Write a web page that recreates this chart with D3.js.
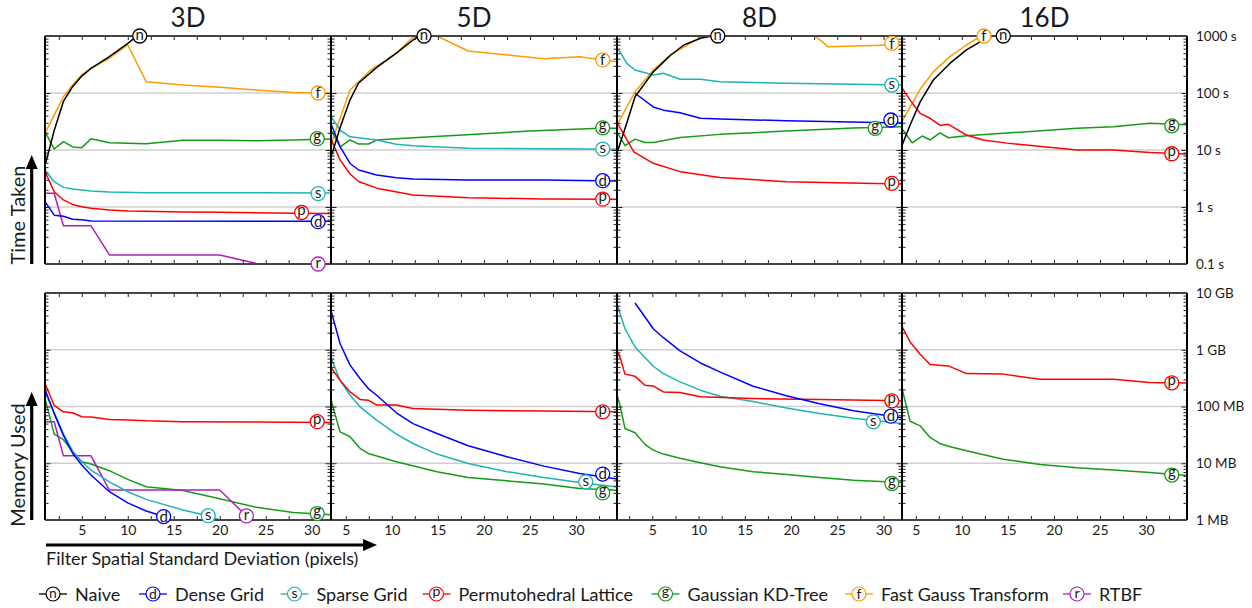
<!DOCTYPE html>
<html><head><meta charset="utf-8">
<script src="https://cdn.jsdelivr.net/npm/d3@7"></script>
<style>
body{margin:0;background:#fff}
svg{display:block}
text{font-family:Lato,"Open Sans",sans-serif;fill:#1a1a1a}
</style></head>
<body><svg id="c" width="1252" height="608"></svg>
<script>
// ---------------- DATA ----------------
const dims = ["3D","5D","8D","16D"];
const seriesKeys = ["n","d","s","p","g","f","r"];
const seriesNames = ["Naive","Dense Grid","Sparse Grid","Permutohedral Lattice","Gaussian KD-Tree","Fast Gauss Transform","RTBF"];
const xDomains = [[1,32.1],[3.4,34.45],[1.18,32.0],[3.5,34.45]];
const xTickLabels = [5,10,15,20,25,30];
const timeTicks = [0.1,1,10,100,1000];
const timeTickLabels = ["0.1 s","1 s","10 s","100 s","1000 s"];
const memTicks = [1,10,100,1000,10000];
const memTickLabels = ["1 MB","10 MB","100 MB","1 GB","10 GB"];

// Time taken (seconds): [sigma, value]
const t3_n = [[1,5.3],[2,22],[3,71],[4,129],[5,198],[6,270],[8,434],[10,740],[10.7,910]];
const t3_d = [[1,1.24],[2,0.72],[3,0.69],[4,0.61],[5,0.595],[6,0.567],[33,0.56]];
const t3_s = [[1,4.46],[2,2.78],[3,2.21],[4,2.07],[5,1.99],[6,1.91],[8,1.83],[12,1.78],[16,1.77],[24,1.77],[33,1.75]];
const t3_p = [[1,4.17],[2,1.85],[3,1.33],[4,1.11],[5,1.01],[6,0.95],[8,0.885],[10,0.85],[12,0.84],[16,0.817],[20,0.81],[28,0.774],[33,0.77]];
const t3_g = [[1,21],[2,10.4],[3,14],[4,11.3],[5,11],[6,15.8],[8,13.4],[12,12.9],[16,14.8],[20,14.8],[24,14.5],[28,15],[33,15.8]];
const t3_f = [[1,19.6],[2,41],[3,86],[4,138],[5,208],[6,270],[8,407],[10,695],[12,158],[16,138],[20,126],[24,113],[28,102],[33,100]];
const t3_r = [[1,1.74],[2,1.74],[3,0.47],[6,0.47],[8,0.144],[20,0.144],[24,0.102],[33,0.1]];
const t3_labels = [["n",11.3,1000],["f",30.7,100],["g",30.6,15.8],["s",30.7,1.72],["p",28.9,0.8],["d",30.7,0.552],["r",30.7,0.1]];

const t5_n = [[3.3,6.6],[4.38,24.6],[5.47,76],[6.4,150],[8.4,285],[10.5,500],[12.3,850],[12.9,980]];
const t5_d = [[3.3,31.4],[4.38,11.5],[5.47,5.8],[6.4,4.46],[8.36,3.64],[10.5,3.27],[12.3,3.1],[18.3,2.98],[26.5,2.98],[35,2.86]];
const t5_s = [[3.3,41],[4.38,22.4],[5.47,17],[8.36,15],[10.5,12.6],[12.3,11.9],[18.3,10.7],[35,10.3]];
const t5_p = [[3.3,17],[4.38,6.7],[5.47,3.8],[6.4,2.8],[8.36,2.14],[12.3,1.63],[18.3,1.46],[26.5,1.38],[35,1.37]];
const t5_g = [[3.3,24],[4.38,11.4],[5.47,15],[6.4,12.7],[7.45,12.7],[8.36,15],[12.3,16.4],[17.7,18.3],[25,21.5],[32.6,24],[35,24]];
const t5_f = [[3.3,11.4],[5.47,113],[7.7,253],[10.5,500],[12.3,950],[13.5,1150],[14.9,1000],[18.3,545],[26.5,400],[30.4,433],[35,345]];
const t5_labels = [["n",13.5,1000],["f",32.9,380],["g",32.9,24.5],["s",32.9,10.4],["d",32.9,2.9],["p",32.9,1.37]];

const t8_n = [[1,7.2],[2.23,29.5],[3.13,86],[5.1,235],[7,464],[8.4,695],[10.2,910],[11.2,975]];
const t8_d = [[3.13,99],[5.1,57],[6.2,50],[8,45],[10.2,36],[12.3,35],[19.5,32.6],[33,29.4]];
const t8_s = [[1,640],[1.5,530],[2.23,330],[3.13,253],[5.1,207],[6.2,222],[8,174],[10.2,174],[12.3,158],[19.5,148],[26.75,142],[33,138]];
const t8_p = [[1,34],[3.0,9.3],[5.1,5.85],[8,4.17],[12.3,3.3],[19.5,2.78],[33,2.5]];
const t8_g = [[1,23],[2.05,11.9],[3.13,15.5],[4.2,13.5],[5.1,13.6],[8,16.6],[12.3,18.8],[19.5,21.5],[26.75,24.3],[33,25.7]];
const t8_f = [[1,24],[3.13,105],[5.1,253],[7,470],[10.2,950],[12,1300],[22,1200],[24,650],[30.9,695],[33,714]];
const t8_labels = [["n",12.08,1000],["f",30.9,745],["s",30.9,138],["d",30.8,33.6],["g",29.1,24],["p",30.9,2.6]];

const t16_n = [[3.3,10],[4.38,27.5],[5.47,70],[6.9,169],[8.7,330],[10.5,570],[12.3,850],[13.2,970]];
const t16_p = [[3.3,138],[4.38,75],[5.47,44],[6.55,36],[7.64,27],[8.54,28.2],[10.5,18.3],[12.3,15],[14.9,13.2],[22.5,10],[26.45,10],[30.4,9.0],[35,8.4]];
const t16_g = [[3.3,26.4],[4.6,13.4],[5.7,17.6],[6.55,15],[7.64,20],[8.54,16.4],[10.5,17.8],[22.5,24],[26.45,25.7],[30.4,29.5],[35,27.5]];
const t16_f = [[3.3,27.5],[4.38,57],[5.47,116],[6.9,235],[8.7,434],[10.5,695],[12,980]];
const t16_labels = [["f",12.4,1000],["n",14.5,1000],["g",32.8,26.5],["p",32.8,8.6]];

// Memory used (MB): [sigma, value]
const m3_d = [[1,200],[2,75],[3,31],[4,15],[5,9.3],[6,6.2],[8,3.15],[10,2.0],[12,1.44],[13.9,1.15]];
const m3_s = [[1,181],[2,78],[3,33],[4,16.5],[5,10.6],[6,7.6],[8,4.7],[10,3.15],[12,2.31],[16,1.5],[18.7,1.19],[20,1.0]];
const m3_p = [[1,254],[2,105],[3,80.5],[4,77.5],[5,66],[6,65],[8,59],[10,58],[12,56],[16,54],[33,52]];
const m3_g = [[1,139],[2,32.6],[3,26],[4,16],[5,10.6],[6,9.7],[8,7.4],[10,5.2],[12,3.86],[16,3.3],[20,2.37],[24,1.67],[28,1.35],[33,1.21]];
const m3_r = [[1,54],[2,54],[3,13.5],[6,13.5],[8,3.37],[20,3.37],[22.9,1.18]];
const m3_labels = [["p",30.6,54],["d",13.9,1.15],["s",18.75,1.19],["r",22.9,1.18],["g",30.6,1.3]];

const m5_d = [[3.3,5600],[4.38,1290],[5.47,536],[6.55,311],[7.45,207],[8.36,158],[10.5,77.5],[12.3,50],[14.9,33.5],[18.3,20.3],[22.5,13],[26.5,8.9],[30.4,6.6],[35,5.1]];
const m5_s = [[3.3,800],[4.38,290],[5.47,158],[6.55,98.6],[8.36,57.5],[10.5,32.6],[12.3,22.3],[14.9,14.5],[18.3,9.9],[22.5,7.1],[26.5,5.6],[30.4,4.6],[35,3.7]];
const m5_p = [[3.3,512],[4.38,290],[5.47,181],[6.55,133],[7.45,129],[8.36,106],[10.5,106],[12.3,92],[18.3,86],[26.5,83],[35,80.5]];
const m5_g = [[3.3,148],[4.38,35.8],[5.47,29.3],[6.55,18.3],[7.45,14.9],[10.5,10.6],[14.9,7.1],[18.3,5.63],[22.5,4.9],[26.5,4.3],[30.4,3.6],[35,3.3]];
const m5_labels = [["p",32.9,80.5],["d",32.9,6.45],["s",31.06,4.7],["g",32.9,3.0]];

const m8_d = [[3.13,6670],[5.1,2350],[6.2,1630],[8,955],[10.2,585],[12.3,407],[15.9,228],[19.5,155],[23.1,112],[26.75,84],[33,60]];
const m8_s = [[1,8000],[2.04,2350],[3.13,1120],[4.2,730],[5.1,512],[6.2,380],[8,272],[10.2,194],[12.3,152],[15.9,122],[19.5,94],[23.1,75],[26.75,62],[33,48]];
const m8_p = [[1,1100],[1.5,750],[2.04,372],[3.13,340],[4.2,237],[5.1,230],[6.2,181],[8,176],[10.2,148],[15.9,138],[23.1,133],[33,126]];
const m8_g = [[1,200],[1.5,106],[2.04,41],[3.13,34.5],[4.2,21.5],[5.1,17],[6.2,14.5],[8,12.2],[10.2,10.2],[12.3,8.7],[15.9,7.1],[19.5,6.35],[23.1,5.6],[26.75,5.0],[33,4.5]];
const m8_labels = [["p",30.9,126],["d",30.8,67.5],["s",28.9,53.8],["g",30.9,4.4]];

const m16_p = [[3.5,2590],[4.38,1370],[5.47,835],[6.55,550],[8.54,519],[10.5,380],[14.5,372],[18.5,302],[26.45,302],[30.4,265],[35,260]];
const m16_g = [[3.5,208],[4.38,55],[5.47,45.6],[6.55,28.5],[7.6,22.3],[8.54,20],[10.5,16.6],[14.5,11.8],[18.5,9.5],[22.5,8.3],[26.45,7.6],[30.4,6.9],[35,6.0]];
const m16_labels = [["p",32.8,261],["g",32.8,6.2]];

// ---------------- BUILD ----------------
const seriesColors = {n:"#000000",d:"#0000ff",s:"#1fb3b3",p:"#ff0000",g:"#169b16",f:"#ff9c00",r:"#b01fb8"};
const letterDy = {n:"0.27em",s:"0.27em",r:"0.27em",d:"0.35em",f:"0.35em",p:"0.15em",g:"0.15em"};
const timePanels = [
  {n:t3_n,d:t3_d,s:t3_s,p:t3_p,g:t3_g,f:t3_f,r:t3_r,labels:t3_labels},
  {n:t5_n,d:t5_d,s:t5_s,p:t5_p,g:t5_g,f:t5_f,labels:t5_labels},
  {n:t8_n,d:t8_d,s:t8_s,p:t8_p,g:t8_g,f:t8_f,labels:t8_labels},
  {n:t16_n,p:t16_p,g:t16_g,f:t16_f,labels:t16_labels}];
const memPanels = [
  {d:m3_d,s:m3_s,p:m3_p,g:m3_g,r:m3_r,labels:m3_labels},
  {d:m5_d,s:m5_s,p:m5_p,g:m5_g,labels:m5_labels},
  {d:m8_d,s:m8_s,p:m8_p,g:m8_g,labels:m8_labels},
  {p:m16_p,g:m16_g,labels:m16_labels}];

const svg = d3.select("#c");
const edges = [45,331,617,902,1187];
const rows = [
  {y: d3.scaleLog().domain([0.1,1000]).range([264,36]), panels: timePanels, ticks: timeTicks, tickLabels: timeTickLabels, top:36, bottom:264},
  {y: d3.scaleLog().domain([1,10000]).range([520,293]), panels: memPanels, ticks: memTicks, tickLabels: memTickLabels, top:293, bottom:520}
];
const drawOrder = ["f","g","r","s","p","d","n"];
const defs = svg.append("defs");

rows.forEach((row, ri) => {
  const y = row.y;
  const [d0, d1] = y.domain();
  const minor = [];
  for (let e = Math.log10(d0); e < Math.log10(d1) - 0.01; e++) for (let k = 2; k <= 9; k++) minor.push(k * Math.pow(10, e));

  // grid lines
  svg.append("g").selectAll("line").data(row.ticks.slice(1, -1)).join("line")
    .attr("x1", edges[0]).attr("x2", edges[4])
    .attr("y1", d => y(d)).attr("y2", d => y(d))
    .attr("stroke", "#cfcfcf").attr("stroke-width", 1.3);

  dims.forEach((dim, i) => {
    const x = d3.scaleLinear().domain(xDomains[i]).range([edges[i], edges[i+1]]);
    const cid = `clip${ri}_${i}`;
    defs.append("clipPath").attr("id", cid).append("rect")
      .attr("x", edges[i]).attr("y", row.top).attr("width", edges[i+1]-edges[i]).attr("height", row.bottom-row.top);
    const pd = row.panels[i];
    const line = d3.line().x(d => x(d[0])).y(d => y(d[1]));
    const g = svg.append("g").attr("clip-path", `url(#${cid})`);
    drawOrder.filter(k => pd[k]).forEach(k => {
      g.append("path").datum(pd[k]).attr("d", line).attr("fill", "none")
        .attr("stroke", seriesColors[k]).attr("stroke-width", 1.5).attr("stroke-linejoin", "round");
    });

    // x ticks on top & bottom edges
    const xt = d3.range(2.5, 36, 2.5).filter(v => v > xDomains[i][0] + 0.05 && v < xDomains[i][1] - 0.05);
    const axT = svg.append("g").attr("transform", `translate(0,${row.top})`)
      .call(d3.axisBottom(x).tickValues(xt).tickSize(4).tickFormat(""));
    const axB = svg.append("g").attr("transform", `translate(0,${row.bottom})`)
      .call(d3.axisTop(x).tickValues(xt).tickSize(4).tickFormat(""));
    [axT, axB].forEach(a => { a.select(".domain").remove(); a.selectAll("line").attr("stroke", "#222").attr("stroke-width", 1); });

    // y ticks on left & right edges (inward)
    [[edges[i], d3.axisRight], [edges[i+1], d3.axisLeft]].forEach(([ex, ax]) => {
      const a1 = svg.append("g").attr("transform", `translate(${ex},0)`)
        .call(ax(y).tickValues(row.ticks).tickSize(5.5).tickFormat(""));
      const a2 = svg.append("g").attr("transform", `translate(${ex},0)`)
        .call(ax(y).tickValues(minor).tickSize(3.5).tickFormat(""));
      [a1, a2].forEach(a => { a.select(".domain").remove(); a.selectAll("line").attr("stroke", "#222").attr("stroke-width", 1); });
    });

    // panel border
    svg.append("line").attr("x1", edges[i]).attr("x2", edges[i+1]).attr("y1", row.top).attr("y2", row.top).attr("stroke", "#444").attr("stroke-width", 2);
    svg.append("line").attr("x1", edges[i]).attr("x2", edges[i+1]).attr("y1", row.bottom).attr("y2", row.bottom).attr("stroke", "#444").attr("stroke-width", 2);
    svg.append("line").attr("x1", edges[i]).attr("x2", edges[i]).attr("y1", row.top).attr("y2", row.bottom).attr("stroke", "#000").attr("stroke-width", 2);
    if (i === 3) svg.append("line").attr("x1", edges[4]).attr("x2", edges[4]).attr("y1", row.top).attr("y2", row.bottom).attr("stroke", "#000").attr("stroke-width", 2);

    // x tick labels under bottom row
    if (ri === 1) {
      const axL = svg.append("g").attr("transform", `translate(0,${row.bottom})`)
        .call(d3.axisBottom(x).tickValues(xTickLabels).tickSize(0).tickPadding(5).tickFormat(d3.format("d")));
      axL.select(".domain").remove();
      axL.selectAll("text").attr("font-size", 14).attr("font-family", "Lato, sans-serif").attr("fill", "#1a1a1a");
    }
    // title
    if (ri === 0) {
      svg.append("text").attr("x", (edges[i] + edges[i+1]) / 2).attr("y", 27).attr("text-anchor", "middle")
        .attr("font-size", 26).text(dim);
    }
  });

  // series labels (circles with letters)
  dims.forEach((dim, i) => {
    const x = d3.scaleLinear().domain(xDomains[i]).range([edges[i], edges[i+1]]);
    const lg = svg.append("g");
    row.panels[i].labels.forEach(([k, lx, lv]) => {
      const gg = lg.append("g").attr("transform", `translate(${x(lx)},${y(lv)})`);
      gg.append("circle").attr("r", 7).attr("fill", "#fff").attr("stroke", seriesColors[k]).attr("stroke-width", 1.3);
      gg.append("text").attr("text-anchor", "middle").attr("dy", letterDy[k])
        .attr("font-size", 15).text(k);
    });
  });

  // right axis labels
  const ar = svg.append("g").attr("transform", `translate(${edges[4]},0)`)
    .call(d3.axisRight(y).tickValues(row.ticks).tickSize(0).tickPadding(9).tickFormat((d, j) => row.tickLabels[j]));
  ar.select(".domain").remove();
  ar.selectAll("text").attr("font-size", 13.5).attr("font-family", "Lato, sans-serif").attr("fill", "#1a1a1a");
});

// axis titles with arrows
const arrowV = (x, y0, y1) => {
  svg.append("line").attr("x1", x).attr("x2", x).attr("y1", y0).attr("y2", y1 + 10).attr("stroke", "#000").attr("stroke-width", 3.2);
  svg.append("path").attr("d", `M${x},${y1} L${x-6},${y1+14} L${x+6},${y1+14} Z`).attr("fill", "#000");
};
arrowV(31.7, 264, 155);
arrowV(31.7, 520, 392);
svg.append("text").attr("transform", "translate(25,215) rotate(-90)").attr("text-anchor", "middle").attr("font-size", 20).text("Time Taken");
svg.append("text").attr("transform", "translate(25,465) rotate(-90)").attr("text-anchor", "middle").attr("font-size", 20).text("Memory Used");

svg.append("line").attr("x1", 46).attr("x2", 366).attr("y1", 545).attr("y2", 545).attr("stroke", "#000").attr("stroke-width", 3.2);
svg.append("path").attr("d", "M377,545 L363,539 L363,551 Z").attr("fill", "#000");
svg.append("text").attr("x", 46).attr("y", 565).attr("font-size", 18).text("Filter Spatial Standard Deviation (pixels)");

// legend
const legendCenters = [53,153,294.5,436.5,665.5,859,1077];
seriesKeys.forEach((k, j) => {
  const c = legendCenters[j];
  const g = svg.append("g");
  g.append("line").attr("x1", c - 14).attr("x2", c + 14).attr("y1", 594).attr("y2", 594).attr("stroke", seriesColors[k]).attr("stroke-width", 1.3);
  g.append("circle").attr("cx", c).attr("cy", 594).attr("r", 7).attr("fill", "#fff").attr("stroke", seriesColors[k]).attr("stroke-width", 1.2);
  g.append("text").attr("x", c).attr("y", 594).attr("dy", letterDy[k]).attr("text-anchor", "middle").attr("font-size", 14).text(k);
  g.append("text").attr("x", c + 22).attr("y", 600.5).attr("font-size", 18).text(seriesNames[j]);
});
</script>
</body></html>
